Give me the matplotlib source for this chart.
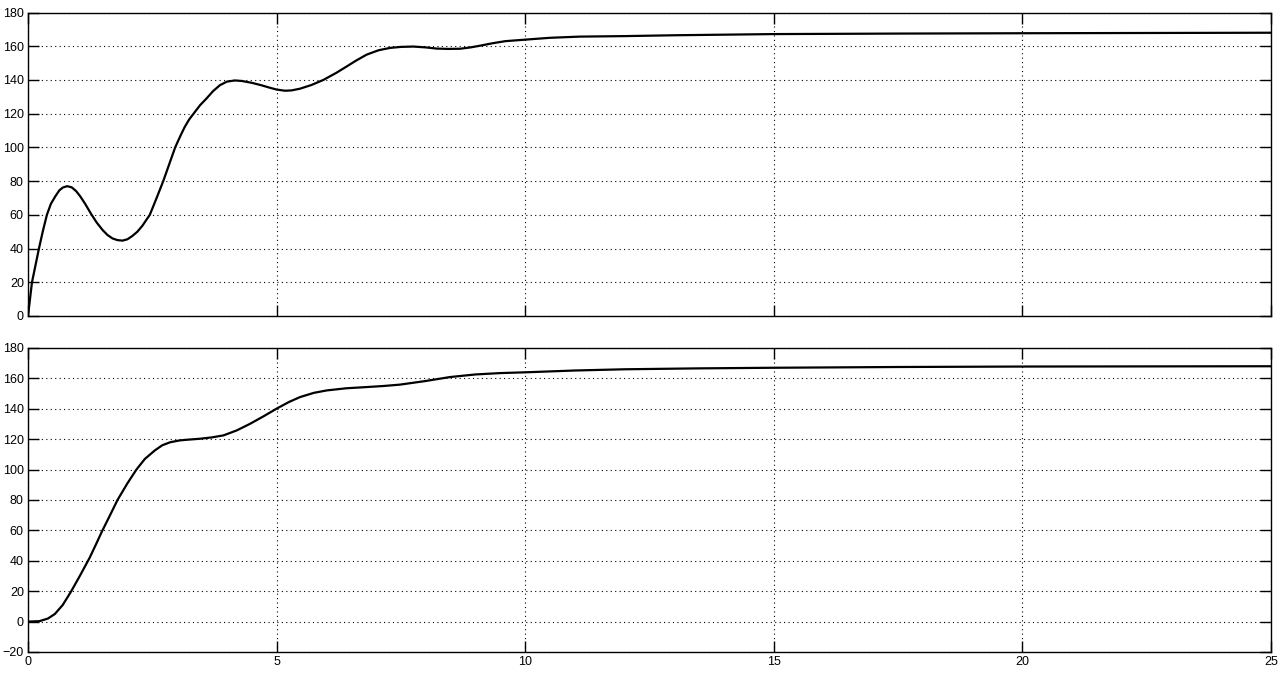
import matplotlib
matplotlib.use("Agg")
import matplotlib.pyplot as plt

# Top response
t_top = [0, 0.04, 0.08, 0.15, 0.22, 0.3, 0.38, 0.46, 0.55, 0.63, 0.7, 0.79, 0.88, 0.97,
         1.05, 1.15, 1.27, 1.38, 1.5, 1.6, 1.7, 1.8, 1.9, 2.0, 2.1, 2.2, 2.3, 2.38, 2.45,
         2.58, 2.72, 2.84, 2.96, 3.06, 3.15, 3.24, 3.33, 3.46, 3.59, 3.72, 3.86, 4.0, 4.16,
         4.3, 4.5, 4.7, 4.85, 5.0, 5.17, 5.3, 5.47, 5.7, 5.94, 6.2, 6.41, 6.6, 6.81, 7.05,
         7.28, 7.5, 7.75, 8.0, 8.22, 8.45, 8.69, 8.9, 9.09, 9.35, 9.6, 10, 10.5, 11.1, 12,
         13, 15, 17.5, 20, 25]
v_top = [0, 10, 20, 30, 40, 50.5, 60, 66.5, 71, 74.5, 76.2, 77, 76.3, 74,
         71, 66.5, 60.5, 55.5, 51, 48, 46, 45, 44.7, 45.5, 47.5, 50, 53.5, 57, 60,
         69.5, 80, 90, 100, 106.5, 112, 116.5, 120, 125, 129, 133.3, 136.9, 139, 139.7,
         139.4, 138.3, 136.8, 135.5, 134.3, 133.6, 133.8, 134.8, 137, 140, 144.2, 148, 151.5, 155, 157.6,
         159, 159.6, 159.8, 159.3, 158.6, 158.4, 158.5, 159.3, 160.3, 161.8, 163, 163.9, 165, 165.7, 166,
         166.5, 167.2, 167.5, 167.7, 168]

# Bottom response
t_bot = [0, 0.23, 0.4, 0.54, 0.7, 0.87, 1.05, 1.24, 1.37, 1.49, 1.65, 1.80, 2.0, 2.18,
         2.35, 2.55, 2.7, 2.86, 3.05, 3.22, 3.46, 3.7, 3.93, 4.2, 4.47, 4.75, 5.0, 5.25,
         5.47, 5.75, 6.01, 6.4, 6.81, 7.15, 7.48, 8.0, 8.49, 9.0, 9.5, 10, 11, 12, 13.5,
         15, 17.5, 20, 25]
v_bot = [0, 0.3, 2, 5, 11, 20, 30.5, 42, 51, 59.5, 70, 80, 91, 100,
         107, 112.6, 116, 118, 119.2, 119.7, 120.3, 121.2, 122.5, 125.8, 130.2, 135.3, 140.1, 144.5,
         147.7, 150.5, 152.1, 153.5, 154.3, 155, 155.9, 158.3, 160.9, 162.6, 163.5, 164, 165.2, 166, 166.6,
         167, 167.5, 167.8, 168]

x_ticks = [0, 5, 10, 15, 20, 25]
y_ticks_top = [0, 20, 40, 60, 80, 100, 120, 140, 160, 180]
y_ticks_bot = [-20, 0, 20, 40, 60, 80, 100, 120, 140, 160, 180]

plt.rcParams['font.family'] = ['Liberation Sans', 'DejaVu Sans']

fig = plt.figure(figsize=(12.85, 6.74), dpi=100)
ax1 = fig.add_axes([28/1285, 1-316/674, 1243/1285, 303.5/674])
ax2 = fig.add_axes([28/1285, 1-652/674, 1243/1285, 304/674])

for ax, t, v, yt, ylim in [(ax1, t_top, v_top, y_ticks_top, (0, 180)),
                            (ax2, t_bot, v_bot, y_ticks_bot, (-20, 180))]:
    ax.plot(t, v, color='black', linewidth=1.6, solid_joinstyle='round')
    ax.set_xlim(0, 25)
    ax.set_ylim(*ylim)
    ax.set_xticks(x_ticks)
    ax.set_yticks(yt)
    ax.grid(True, color='black', linestyle=(0, (1, 3)), linewidth=0.8)
    ax.tick_params(direction='in', length=8, width=1, top=True, right=True,
                   labelsize=9, pad=3, colors='black')
    for s in ax.spines.values():
        s.set_linewidth(1.0)

ax1.tick_params(labelbottom=False)

fig.savefig("out.png", dpi=100, facecolor='white')
